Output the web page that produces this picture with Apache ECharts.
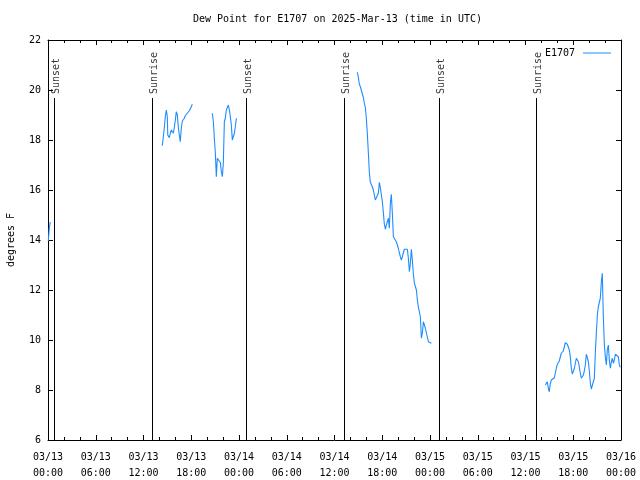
<!DOCTYPE html>
<html>
<head>
<meta charset="utf-8">
<script src="https://cdn.jsdelivr.net/npm/echarts@6/dist/echarts.min.js"></script>
<style>html,body{margin:0;padding:0;background:#fff;}#c{width:640px;height:480px;}</style>
</head>
<body>
<div id="c"></div>
<script>
// hours since 2025-03-13 00:00 UTC
const xTickLabels = ['03/13\n00:00','03/13\n06:00','03/13\n12:00','03/13\n18:00','03/14\n00:00','03/14\n06:00','03/14\n12:00','03/14\n18:00','03/15\n00:00','03/15\n06:00','03/15\n12:00','03/15\n18:00','03/16\n00:00'];

const seg1Times = [0.04, 0.16, 0.29];
const seg1Values = [13.96, 14.48, 14.72];

const seg2Times = [14.36,14.49,14.61,14.74,14.87,14.99,15.05,15.12,15.24,15.37,15.49,15.62,15.75,15.87,16.00,16.12,16.25,16.37,16.50,16.62,16.75,16.88,17.00,17.13,17.25,17.38,17.50,17.63,17.76,17.88,18.01,18.13];
const seg2Values = [17.77,18.13,18.47,18.93,19.2,18.93,18.2,18.2,18.09,18.27,18.4,18.47,18.27,18.5,18.8,19.13,19.0,18.53,18.2,17.93,18.47,18.76,18.8,18.87,18.97,19.03,19.07,19.12,19.17,19.25,19.33,19.43];

const seg3Times = [20.65,20.78,20.90,21.03,21.15,21.28,21.40,21.53,21.66,21.78,21.91,22.03,22.16,22.28,22.41,22.54,22.66,22.79,22.91,23.04,23.16,23.29,23.42,23.54,23.67];
const seg3Values = [19.07,18.73,18.07,17.47,16.53,17.27,17.33,17.27,17.1,16.73,16.53,17.07,18.73,18.87,19.2,19.27,19.4,19.2,18.93,18.6,18.0,18.07,18.27,18.53,18.87];

const seg4Times = [38.87,38.99,39.12,39.25,39.37,39.50,39.62,39.75,39.88,40.00,40.13,40.25,40.38,40.50,40.63,40.76,40.88,41.01,41.13,41.26,41.38,41.51,41.64,41.76,41.89,42.01,42.14,42.26,42.39,42.52,42.64,42.77,42.89,43.02,43.14,43.27,43.40,43.52,43.65,43.77,43.90,44.02,44.15,44.28,44.40,44.53,44.65,44.78,44.90,45.03,45.16,45.28,45.41,45.53,45.66,45.78,45.91,46.04,46.16,46.29,46.41,46.54,46.66,46.79,46.92,47.04,47.17,47.29,47.42,47.54,47.67,47.80,47.92,48.05,48.17];
const seg4Values = [20.71,20.53,20.23,20.13,20.2,20.07,19.71,19.47,19.29,18.87,18.23,17.51,16.71,16.31,16.27,16.13,16.0,15.8,15.6,15.53,15.67,15.87,16.31,16.09,15.8,15.53,15.1,14.64,14.43,14.6,14.73,14.87,14.47,15.47,15.83,15.07,14.13,14.11,14.07,13.93,13.8,13.67,13.49,13.33,13.2,13.33,13.49,13.63,13.63,13.63,13.63,13.27,12.73,13.07,13.63,13.2,12.64,12.27,12.27,12.0,11.6,11.31,11.27,10.93,10.07,10.27,10.73,10.67,10.47,10.29,10.11,9.93,9.89,9.87,9.87];

const seg5Times = [62.49,62.62,62.74,62.87,62.99,63.12,63.25,63.37,63.50,63.62,63.75,63.87,64.00,64.13,64.25,64.38,64.50,64.63,64.75,64.88,65.00,65.13,65.26,65.38,65.51,65.63,65.76,65.88,66.01,66.14,66.26,66.39,66.51,66.64,66.76,66.89,67.02,67.14,67.27,67.39,67.52,67.64,67.77,67.90,68.02,68.15,68.27,68.40,68.52,68.65,68.77,68.90,69.03,69.15,69.28,69.40,69.53,69.65,69.78,69.91,70.03,70.16,70.28,70.41,70.53,70.66,70.79,70.91,71.04,71.16,71.29,71.41,71.54,71.67,71.79,71.92];
const seg5Values = [8.2,8.27,8.33,8.07,7.93,8.27,8.4,8.44,8.44,8.49,8.67,8.87,9.03,9.03,9.16,9.33,9.47,9.47,9.56,9.73,9.89,9.87,9.83,9.77,9.6,9.33,8.87,8.64,8.64,8.87,9.07,9.27,9.33,9.13,8.93,8.67,8.47,8.44,8.6,8.76,9.0,9.43,9.29,9.13,8.76,8.27,8.04,8.04,8.04,8.47,9.47,10.27,11.0,11.33,11.33,11.67,12.33,12.67,10.93,9.8,9.33,9.0,9.6,9.8,9.2,8.87,9.13,9.27,9.07,9.2,9.43,9.43,9.43,9.33,9.0,8.91];

const sunEventTimes = [0.75, 13.11, 24.92, 37.28, 49.13, 61.32];
const sunEventNames = ['Sunset','Sunrise','Sunset','Sunrise','Sunset','Sunrise'];
const sunLineTop = 19.68;

const segments = [[seg1Times,seg1Values],[seg2Times,seg2Values],[seg3Times,seg3Values],[seg4Times,seg4Values],[seg5Times,seg5Values]];
const lineData = [];
segments.forEach(function(s, k){
  if (k > 0) lineData.push([s[0][0], '-']);
  for (let i = 0; i < s[0].length; i++) lineData.push([s[0][i], s[1][i]]);
});

const FONT = 'DejaVu Sans Mono';
const BLUE = '#1e8cff';
const chart = echarts.init(document.getElementById('c'), null, {renderer:'canvas'});
const axisCommonX = {
  type:'value', min:0, max:72, interval:6,
  axisLine:{show:true, onZero:false, lineStyle:{color:'#000', width:1}},
  axisTick:{show:true, inside:true, length:5, lineStyle:{color:'#000'}},
  minorTick:{show:true, splitNumber:3, length:3, lineStyle:{color:'#000'}},
  splitLine:{show:false}, minorSplitLine:{show:false}
};
const axisCommonY = {
  type:'value', min:6, max:22, interval:2,
  axisLine:{show:true, onZero:false, lineStyle:{color:'#000', width:1}},
  axisTick:{show:true, inside:true, length:5, lineStyle:{color:'#000'}},
  splitLine:{show:false}
};
chart.setOption({
  animation:false,
  backgroundColor:'#fff',
  textStyle:{fontFamily:FONT},
  title:{text:'Dew Point for E1707 on 2025-Mar-13 (time in UTC)', left:188, top:9,
    textStyle:{fontFamily:FONT, fontSize:10, fontWeight:'normal', color:'#000'}},
  legend:{data:[{name:'E1707', icon:'rect'}], right:24, top:43, align:'right', itemWidth:28, itemHeight:1, itemGap:8,
    textStyle:{fontFamily:FONT, fontSize:10, color:'#000', padding:[0,3,0,0]}},
  grid:{left:48, right:19, top:40, bottom:40, containLabel:false, outerBoundsMode:'none'},
  xAxis:[
    Object.assign({}, axisCommonX, {position:'bottom',
      axisLabel:{show:true, margin:9, fontFamily:FONT, fontSize:10, color:'#000', lineHeight:16,
        formatter:function(v){ return xTickLabels[Math.round(v/6)] || ''; }}}),
    Object.assign({}, axisCommonX, {position:'top', axisLabel:{show:false}})
  ],
  yAxis:[
    Object.assign({}, axisCommonY, {position:'left', name:'degrees F', nameLocation:'middle', nameGap:32,
      nameTextStyle:{fontFamily:FONT, fontSize:10, color:'#000'},
      axisLabel:{show:true, margin:7, fontFamily:FONT, fontSize:10, color:'#000'}}),
    Object.assign({}, axisCommonY, {position:'right', axisLabel:{show:false}})
  ],
  series:[
    {
      name:'E1707', type:'line', data:lineData, showSymbol:false, symbol:'none',
      connectNulls:false,
      lineStyle:{color:BLUE, width:1.1}, itemStyle:{color:BLUE},
      markLine:{
        silent:true, symbol:['none','none'], animation:false,
        lineStyle:{color:'#000', width:1, type:'solid'},
        label:{show:false},
        data: sunEventTimes.map(function(t){ return [{coord:[t, 6]}, {coord:[t, sunLineTop]}]; })
      }
    },
    {
      name:'sun', type:'scatter', symbolSize:0, silent:true,
      data: sunEventTimes.map(function(t, i){ return {value:[t, sunLineTop], name:sunEventNames[i]}; }),
      label:{show:true, position:'inside', rotate:90, align:'left', verticalAlign:'middle',
        offset:[4,2], formatter:function(p){ return p.name; },
        fontFamily:FONT, fontSize:10, color:'#000'}
    }
  ]
});
</script>
</body>
</html>
